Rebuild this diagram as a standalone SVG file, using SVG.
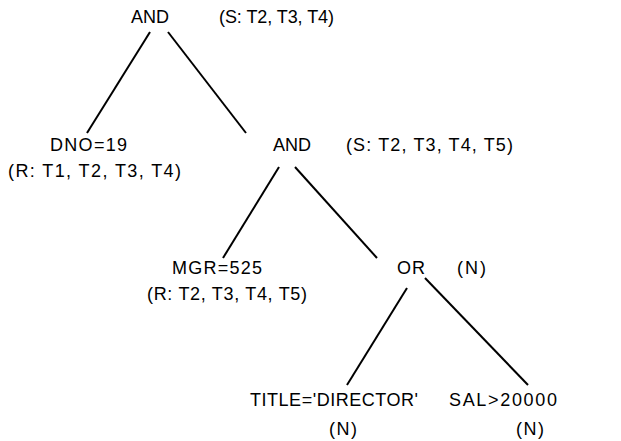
<svg xmlns="http://www.w3.org/2000/svg" width="621" height="441" viewBox="0 0 621 441">
  <style>
    text { font-family: "Liberation Sans", Arial, sans-serif; font-size: 18px; fill: #000; }
    .c { text-anchor: middle; }
    .edge { stroke: #000; stroke-width: 2; fill: none; }
  </style>
  <rect width="621" height="441" fill="#fff"/>
  <!-- tree edges -->
  <g id="connectors">
    <line class="edge" x1="150" y1="32" x2="87" y2="133"/>
    <line class="edge" x1="168" y1="32" x2="246" y2="133"/>
    <line class="edge" x1="279" y1="167" x2="223" y2="258"/>
    <line class="edge" x1="295" y1="167" x2="377" y2="258"/>
    <line class="edge" x1="407" y1="288" x2="347" y2="385"/>
    <line class="edge" x1="425" y1="278" x2="528" y2="385"/>
  </g>
  <g id="and-root">
    <text class="c" x="150" y="23" textLength="38" lengthAdjust="spacing">AND</text>
    <text x="219" y="23" textLength="115" lengthAdjust="spacing">(S: T2, T3, T4)</text>
  </g>
  <g id="dno">
    <text x="50" y="151" textLength="77" lengthAdjust="spacing">DNO=19</text>
    <text x="8" y="177" textLength="173" lengthAdjust="spacing">(R: T1, T2, T3, T4)</text>
  </g>
  <g id="and-inner">
    <text class="c" x="292" y="151" textLength="38" lengthAdjust="spacing">AND</text>
    <text x="346" y="151" textLength="167" lengthAdjust="spacing">(S: T2, T3, T4, T5)</text>
  </g>
  <g id="mgr">
    <text x="172" y="274" textLength="90" lengthAdjust="spacing">MGR=525</text>
    <text x="147" y="300" textLength="160" lengthAdjust="spacing">(R: T2, T3, T4, T5)</text>
  </g>
  <g id="or">
    <text x="397" y="274" textLength="28" lengthAdjust="spacing">OR</text>
    <text x="457" y="274" textLength="29" lengthAdjust="spacing">(N)</text>
  </g>
  <g id="title">
    <text x="250" y="406" textLength="168" lengthAdjust="spacing">TITLE='DIRECTOR'</text>
    <text class="c" x="343" y="435" textLength="28" lengthAdjust="spacing">(N)</text>
  </g>
  <g id="sal">
    <text x="449" y="406" textLength="108" lengthAdjust="spacing">SAL&gt;20000</text>
    <text class="c" x="530" y="435" textLength="28" lengthAdjust="spacing">(N)</text>
  </g>
</svg>
